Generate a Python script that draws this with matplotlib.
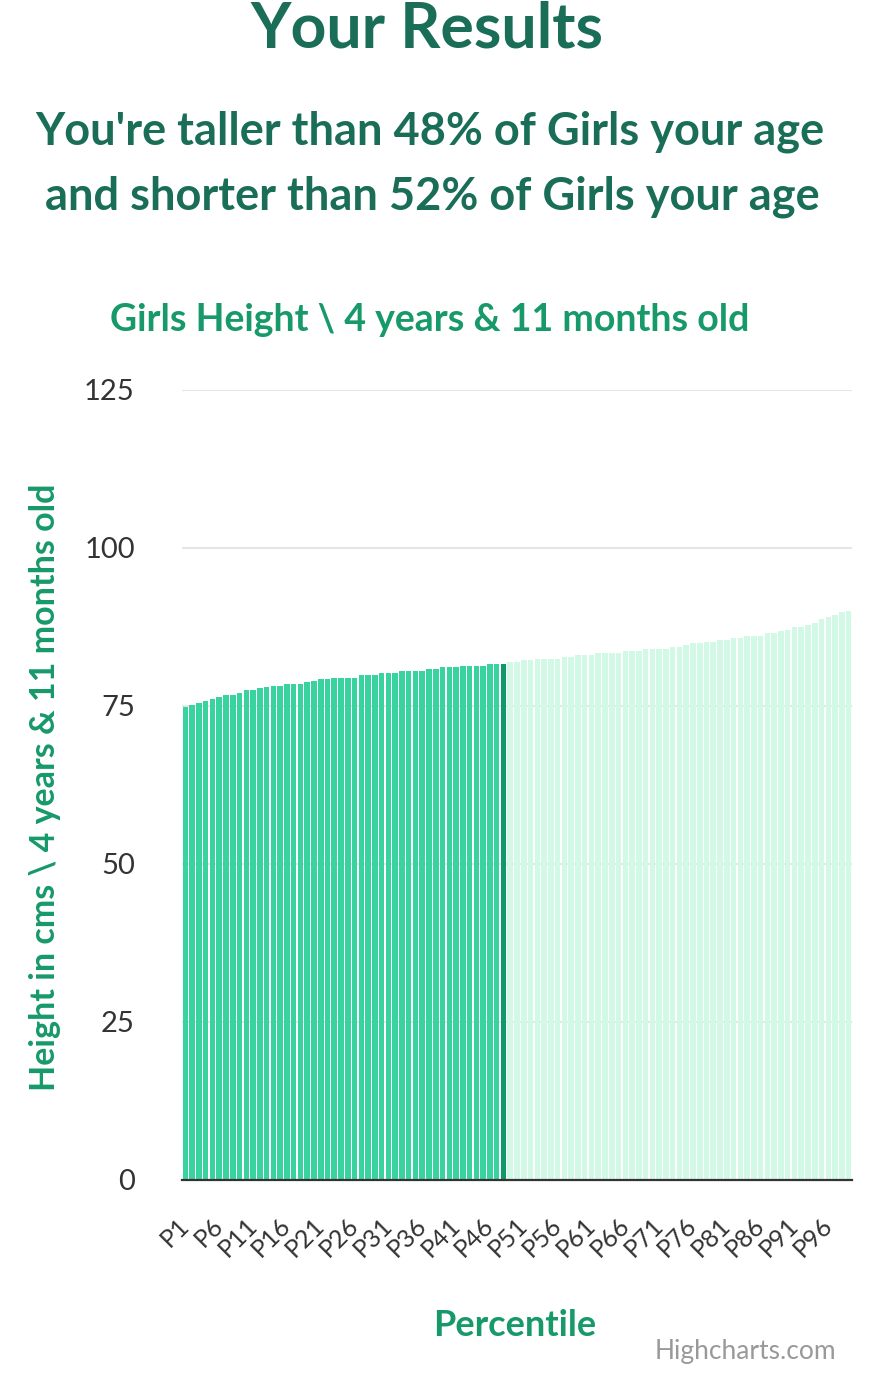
import matplotlib.pyplot as plt
import numpy as np

# Datos (altura en cm por percentil)
percentiles = [f"P{i}" for i in range(1, 100)]
heights = [
    74.9, 75.2, 75.5, 75.8, 76.1, 76.4, 76.8, 76.8, 77.1, 77.5,
    77.5, 77.8, 78.0, 78.2, 78.2, 78.5, 78.5, 78.5, 78.8, 78.9,
    79.2, 79.2, 79.5, 79.5, 79.5, 79.5, 79.9, 79.9, 79.9, 80.2,
    80.2, 80.2, 80.5, 80.5, 80.5, 80.5, 80.8, 80.8, 81.1, 81.1,
    81.1, 81.4, 81.4, 81.4, 81.4, 81.7, 81.7, 81.7, 82.0, 82.0,
    82.2, 82.2, 82.4, 82.4, 82.4, 82.4, 82.8, 82.8, 83.1, 83.1,
    83.1, 83.4, 83.4, 83.4, 83.4, 83.7, 83.7, 83.7, 84.0, 84.0,
    84.0, 84.0, 84.4, 84.4, 84.6, 84.9, 84.9, 85.2, 85.2, 85.5,
    85.5, 85.8, 85.8, 86.1, 86.1, 86.1, 86.5, 86.5, 86.8, 87.1,
    87.5, 87.5, 87.8, 88.1, 88.8, 89.1, 89.4, 89.8, 90.1,
]
user_percentile = 48
y_ticks = [0, 25, 50, 75, 100, 125]

plt.rcParams['font.family'] = ['Lato', 'DejaVu Sans']

dark_text = '#1a6e58'
green_text = '#17996a'
below_col = '#38d39f'
user_col = '#10976a'
above_col = '#d2f8e6'

fig = plt.figure(figsize=(8.69, 13.75), dpi=100)
ax = fig.add_axes([182 / 869, 195 / 1375, 670 / 869, 790 / 1375])

colors = []
for i in range(len(heights)):
    if i + 1 < user_percentile:
        colors.append(below_col)
    elif i + 1 == user_percentile:
        colors.append(user_col)
    else:
        colors.append(above_col)

x = np.arange(len(heights))
ax.bar(x, heights, width=0.82, color=colors, zorder=2)

ax.set_xlim(-0.5, len(heights) - 0.5)
ax.set_ylim(0, 125)
ax.set_yticks(y_ticks)
ax.set_yticklabels([str(v) for v in y_ticks], fontsize=21, color='#333333')
ax.yaxis.grid(True, color='#e6e6e6', linewidth=1.5, zorder=0)
ax.set_axisbelow(True)

ax.set_xticks(x[::5])
ax.set_xticklabels(percentiles[::5], fontsize=18, color='#333333',
                   rotation=45, ha='right', va='center', rotation_mode='anchor')
ax.tick_params(axis='x', length=0, pad=30)
ax.tick_params(axis='y', length=0, pad=34)

for side in ['top', 'right', 'left']:
    ax.spines[side].set_visible(False)
ax.spines['bottom'].set_color('#333333')
ax.spines['bottom'].set_linewidth(1.6)
ax.spines['bottom'].set_zorder(3)

ax.set_ylabel("Height in cms \\ 4 years & 11 months old", fontsize=24.5,
              color=green_text, fontweight='bold')
ax.yaxis.set_label_coords(-0.18, 0.497)

fig.text(515 / 869, 1 - 1325 / 1375, "Percentile", fontsize=26, color=green_text,
         fontweight='bold', ha='center', va='center')

fig.text(427 / 869, 1 - 30 / 1375, "Your Results", fontsize=45, color=dark_text,
         fontweight='bold', ha='center', va='center')
fig.text(430 / 869, 1 - 132 / 1375, "You're taller than 48% of Girls your age",
         fontsize=32.5, color=dark_text, fontweight='bold', ha='center', va='center')
fig.text(432 / 869, 1 - 197 / 1375, "and shorter than 52% of Girls your age",
         fontsize=32.5, color=dark_text, fontweight='bold', ha='center', va='center')
fig.text(430 / 869, 1 - 320 / 1375, "Girls Height \\ 4 years & 11 months old",
         fontsize=27, color=green_text, fontweight='bold', ha='center', va='center')

fig.text(836 / 869, 1 - 1352 / 1375, "Highcharts.com", fontsize=19, color='#999999',
         ha='right', va='center')

plt.savefig('out.png', dpi=100)
